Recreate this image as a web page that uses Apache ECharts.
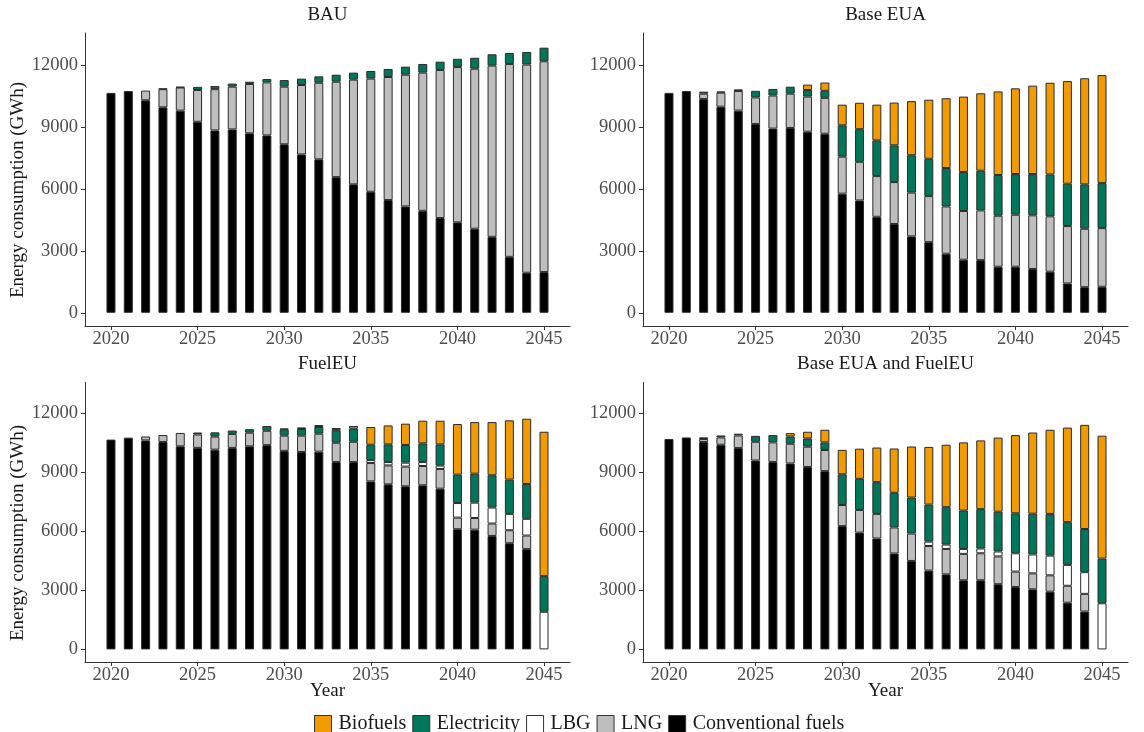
<!DOCTYPE html>
<html>
<head>
<meta charset="utf-8">
<script src="https://cdn.jsdelivr.net/npm/echarts@6/dist/echarts.min.js"></script>
<style>
  html, body { margin: 0; padding: 0; background: #ffffff; }
  #chart { width: 1144px; height: 732px; }
</style>
</head>
<body>
<div id="chart"></div>
<script>
// Years on the x axis
const years = [2020, 2021, 2022, 2023, 2024, 2025, 2026, 2027, 2028, 2029, 2030, 2031, 2032,
               2033, 2034, 2035, 2036, 2037, 2038, 2039, 2040, 2041, 2042, 2043, 2044, 2045];
const xTickYears = [2020, 2025, 2030, 2035, 2040, 2045];
const yTickValues = [0, 3000, 6000, 9000, 12000];

// Energy consumption (GWh) by fuel, BAU scenario
const bauConventional = [10650, 10740, 10290, 9950, 9790, 9250, 8830, 8880, 8690, 8590, 8160, 7670, 7430,
                         6570, 6220, 5860, 5460, 5150, 4940, 4590, 4380, 4070, 3680, 2710, 1940, 1970];
const bauLNG = [0, 0, 470, 880, 1120, 1540, 2000, 2070, 2390, 2570, 2790, 3360, 3710,
                4620, 5070, 5480, 5960, 6380, 6690, 7170, 7520, 7750, 8290, 9340, 10080, 10210];
const bauLBG = [0, 0, 0, 0, 0, 0, 0, 0, 0, 0, 0, 0, 0, 0, 0, 0, 0, 0, 0, 0, 0, 0, 0, 0, 0, 0];
const bauElectricity = [0, 0, 0, 30, 30, 150, 150, 150, 110, 160, 320, 310, 310,
                        340, 340, 370, 390, 390, 420, 400, 400, 530, 550, 530, 610, 660];
const bauBiofuels = [0, 0, 0, 0, 0, 0, 0, 0, 0, 0, 0, 0, 0, 0, 0, 0, 0, 0, 0, 0, 0, 0, 0, 0, 0, 0];

// Base EUA scenario
const euaConventional = [10650, 10740, 10350, 9980, 9790, 9140, 8920, 8950, 8770, 8670, 5770, 5440, 4650,
                         4300, 3700, 3420, 2860, 2570, 2550, 2230, 2230, 2120, 1990, 1420, 1240, 1260];
const euaLNG = [0, 0, 260, 680, 950, 1290, 1600, 1660, 1700, 1740, 1790, 1870, 1970,
                2030, 2120, 2230, 2290, 2360, 2410, 2470, 2520, 2600, 2680, 2780, 2830, 2840];
const euaLBG = [0, 0, 0, 0, 0, 0, 0, 0, 0, 0, 0, 0, 0, 0, 0, 0, 0, 0, 0, 0, 0, 0, 0, 0, 0, 0];
const euaElectricity = [0, 0, 100, 60, 80, 320, 320, 340, 320, 340, 1520, 1580, 1730,
                        1780, 1810, 1810, 1860, 1890, 1920, 1970, 1970, 2000, 2030, 2050, 2150, 2180];
const euaBiofuels = [0, 0, 0, 0, 0, 0, 0, 0, 260, 400, 1000, 1280, 1730,
                     2070, 2620, 2860, 3380, 3650, 3750, 4050, 4150, 4280, 4440, 4970, 5140, 5230];

// FuelEU scenario
const fuelConventional = [10650, 10750, 10610, 10530, 10310, 10230, 10140, 10230, 10310, 10370, 10080, 10020, 10040,
                          9510, 9510, 8530, 8380, 8280, 8330, 8160, 6100, 6080, 5760, 5390, 5090, 0];
const fuelLNG = [0, 0, 200, 350, 680, 680, 660, 710, 690, 730, 770, 830, 910,
                 980, 1030, 930, 960, 1000, 980, 1000, 590, 590, 630, 660, 690, 0];
const fuelLBG = [0, 0, 0, 0, 0, 0, 0, 0, 0, 0, 0, 0, 0,
                 0, 0, 150, 170, 200, 200, 170, 740, 780, 810, 830, 850, 1910];
const fuelElectricity = [0, 0, 0, 0, 0, 100, 220, 170, 180, 240, 320, 340, 340,
                         640, 660, 780, 900, 900, 950, 1080, 1440, 1470, 1640, 1740, 1770, 1810];
const fuelBiofuels = [0, 0, 0, 0, 0, 0, 0, 0, 0, 0, 40, 80, 100,
                      110, 140, 900, 960, 1080, 1150, 1200, 2570, 2620, 2700, 3010, 3310, 7330];

// Base EUA and FuelEU scenario
const bothConventional = [10680, 10760, 10530, 10390, 10220, 9590, 9510, 9440, 9260, 9050, 6260, 5930, 5630,
                          4870, 4490, 4000, 3810, 3510, 3510, 3310, 3170, 3050, 2930, 2370, 1920, 0];
const bothLNG = [0, 0, 150, 370, 640, 950, 1000, 1000, 1030, 1070, 1070, 1150, 1250,
                 1320, 1390, 1250, 1290, 1340, 1370, 1410, 780, 810, 830, 860, 900, 0];
const bothLBG = [0, 0, 0, 0, 0, 0, 0, 0, 0, 0, 0, 0, 0,
                 0, 0, 220, 220, 250, 240, 250, 930, 960, 1000, 1060, 1100, 2340];
const bothElectricity = [0, 0, 85, 100, 90, 300, 370, 370, 420, 390, 1560, 1580, 1610,
                         1760, 1830, 1880, 1900, 1950, 2000, 2020, 2030, 2070, 2120, 2170, 2190, 2270];
const bothBiofuels = [0, 0, 0, 0, 0, 0, 0, 170, 340, 640, 1240, 1530, 1760,
                      2250, 2590, 2930, 3170, 3460, 3490, 3760, 3970, 4120, 4270, 4800, 5290, 6240];

// Stacking order, bottom to top, and fill colours
const fuelNames = ['Conventional fuels', 'LNG', 'LBG', 'Electricity', 'Biofuels'];
const legendOrder = ['Biofuels', 'Electricity', 'LBG', 'LNG', 'Conventional fuels'];
const fuelColors = {
  'Conventional fuels': '#000000',
  'LNG': '#bebebe',
  'LBG': '#ffffff',
  'Electricity': '#00765a',
  'Biofuels': '#f29b00'
};

const panels = [
  { title: 'BAU', values: [bauConventional, bauLNG, bauLBG, bauElectricity, bauBiofuels] },
  { title: 'Base EUA', values: [euaConventional, euaLNG, euaLBG, euaElectricity, euaBiofuels] },
  { title: 'FuelEU', values: [fuelConventional, fuelLNG, fuelLBG, fuelElectricity, fuelBiofuels] },
  { title: 'Base EUA and FuelEU', values: [bothConventional, bothLNG, bothLBG, bothElectricity, bothBiofuels] }
];

// The x scale runs half a year past an empty slot on each side of the data
const axisYears = [years[0] - 1].concat(years, [years[years.length - 1] + 1]);
const axisCategories = axisYears.map(String);
const isTickYear = (idx, val) => xTickYears.indexOf(Number(val)) >= 0;

// Panel placement (pixels)
const FONT = '"Liberation Serif", "DejaVu Serif", serif';
const colLeft = [85, 643];
const colWidth = 485;
const rowTop = [33, 382.5];
const rowHeight = [293, 279.5];

const grids = [], xAxes = [], yAxes = [], series = [], texts = [];

panels.forEach((p, i) => {
  const col = i % 2, row = Math.floor(i / 2);
  grids.push({ left: colLeft[col], top: rowTop[row], width: colWidth, height: rowHeight[row], containLabel: false });
  const axisLineStyle = { color: '#333333', width: 1 };
  xAxes.push({
    type: 'category', gridIndex: i, data: axisCategories, boundaryGap: true,
    splitLine: { show: false },
    axisLine: { show: true, onZero: false, lineStyle: axisLineStyle },
    axisTick: { show: true, length: 4, alignWithLabel: true, interval: isTickYear, lineStyle: axisLineStyle },
    axisLabel: {
      interval: isTickYear, margin: 4, color: '#4d4d4d',
      fontFamily: FONT, fontSize: 18.5
    }
  });
  yAxes.push({
    type: 'value', gridIndex: i, min: -640, max: 13550,
    splitLine: { show: false },
    axisLine: { show: true, onZero: false, lineStyle: axisLineStyle },
    axisTick: { show: true, length: 4, customValues: yTickValues, lineStyle: axisLineStyle },
    axisLabel: {
      customValues: yTickValues, margin: 7, color: '#4d4d4d',
      fontFamily: FONT, fontSize: 18.5, formatter: v => String(v)
    }
  });
  fuelNames.forEach((name, k) => {
    const vals = p.values[k];
    const padded = ['-'].concat(vals.map(v => (v > 0 ? v : '-')), ['-']);
    series.push({
      type: 'bar', name: name, xAxisIndex: i, yAxisIndex: i, stack: 'panel' + i,
      barWidth: 9,
      itemStyle: { color: fuelColors[name], borderColor: '#2b2b2b', borderWidth: 1 },
      emphasis: { disabled: true },
      data: padded
    });
  });
  const cx = colLeft[col] + colWidth / 2;
  texts.push({
    type: 'text', x: cx, y: row === 0 ? 15 : 364,
    style: { text: p.title, font: '19px ' + FONT, fill: '#1a1a1a', textAlign: 'center', textVerticalAlign: 'middle' }
  });
  if (col === 0) {
    texts.push({
      type: 'text', x: 18, y: row === 0 ? 190 : 533, rotation: Math.PI / 2,
      style: { text: 'Energy consumption (GWh)', font: '19px ' + FONT, fill: '#1a1a1a', textAlign: 'center', textVerticalAlign: 'middle' }
    });
  }
  if (row === 1) {
    texts.push({
      type: 'text', x: cx, y: 691,
      style: { text: 'Year', font: '19px ' + FONT, fill: '#1a1a1a', textAlign: 'center', textVerticalAlign: 'middle' }
    });
  }
});

const chart = echarts.init(document.getElementById('chart'), null, { renderer: 'canvas' });
chart.setOption({
  animation: false,
  backgroundColor: '#ffffff',
  grid: grids,
  xAxis: xAxes,
  yAxis: yAxes,
  series: series,
  legend: {
    data: legendOrder, left: 309, top: 709, orient: 'horizontal',
    icon: 'rect', itemWidth: 17, itemHeight: 17, itemGap: 6, selectedMode: false,
    itemStyle: { borderColor: '#333333', borderWidth: 1 },
    textStyle: { fontFamily: FONT, fontSize: 20, color: '#1a1a1a', padding: [0, 0, 0, 2] }
  },
  graphic: texts
});
</script>
</body>
</html>
